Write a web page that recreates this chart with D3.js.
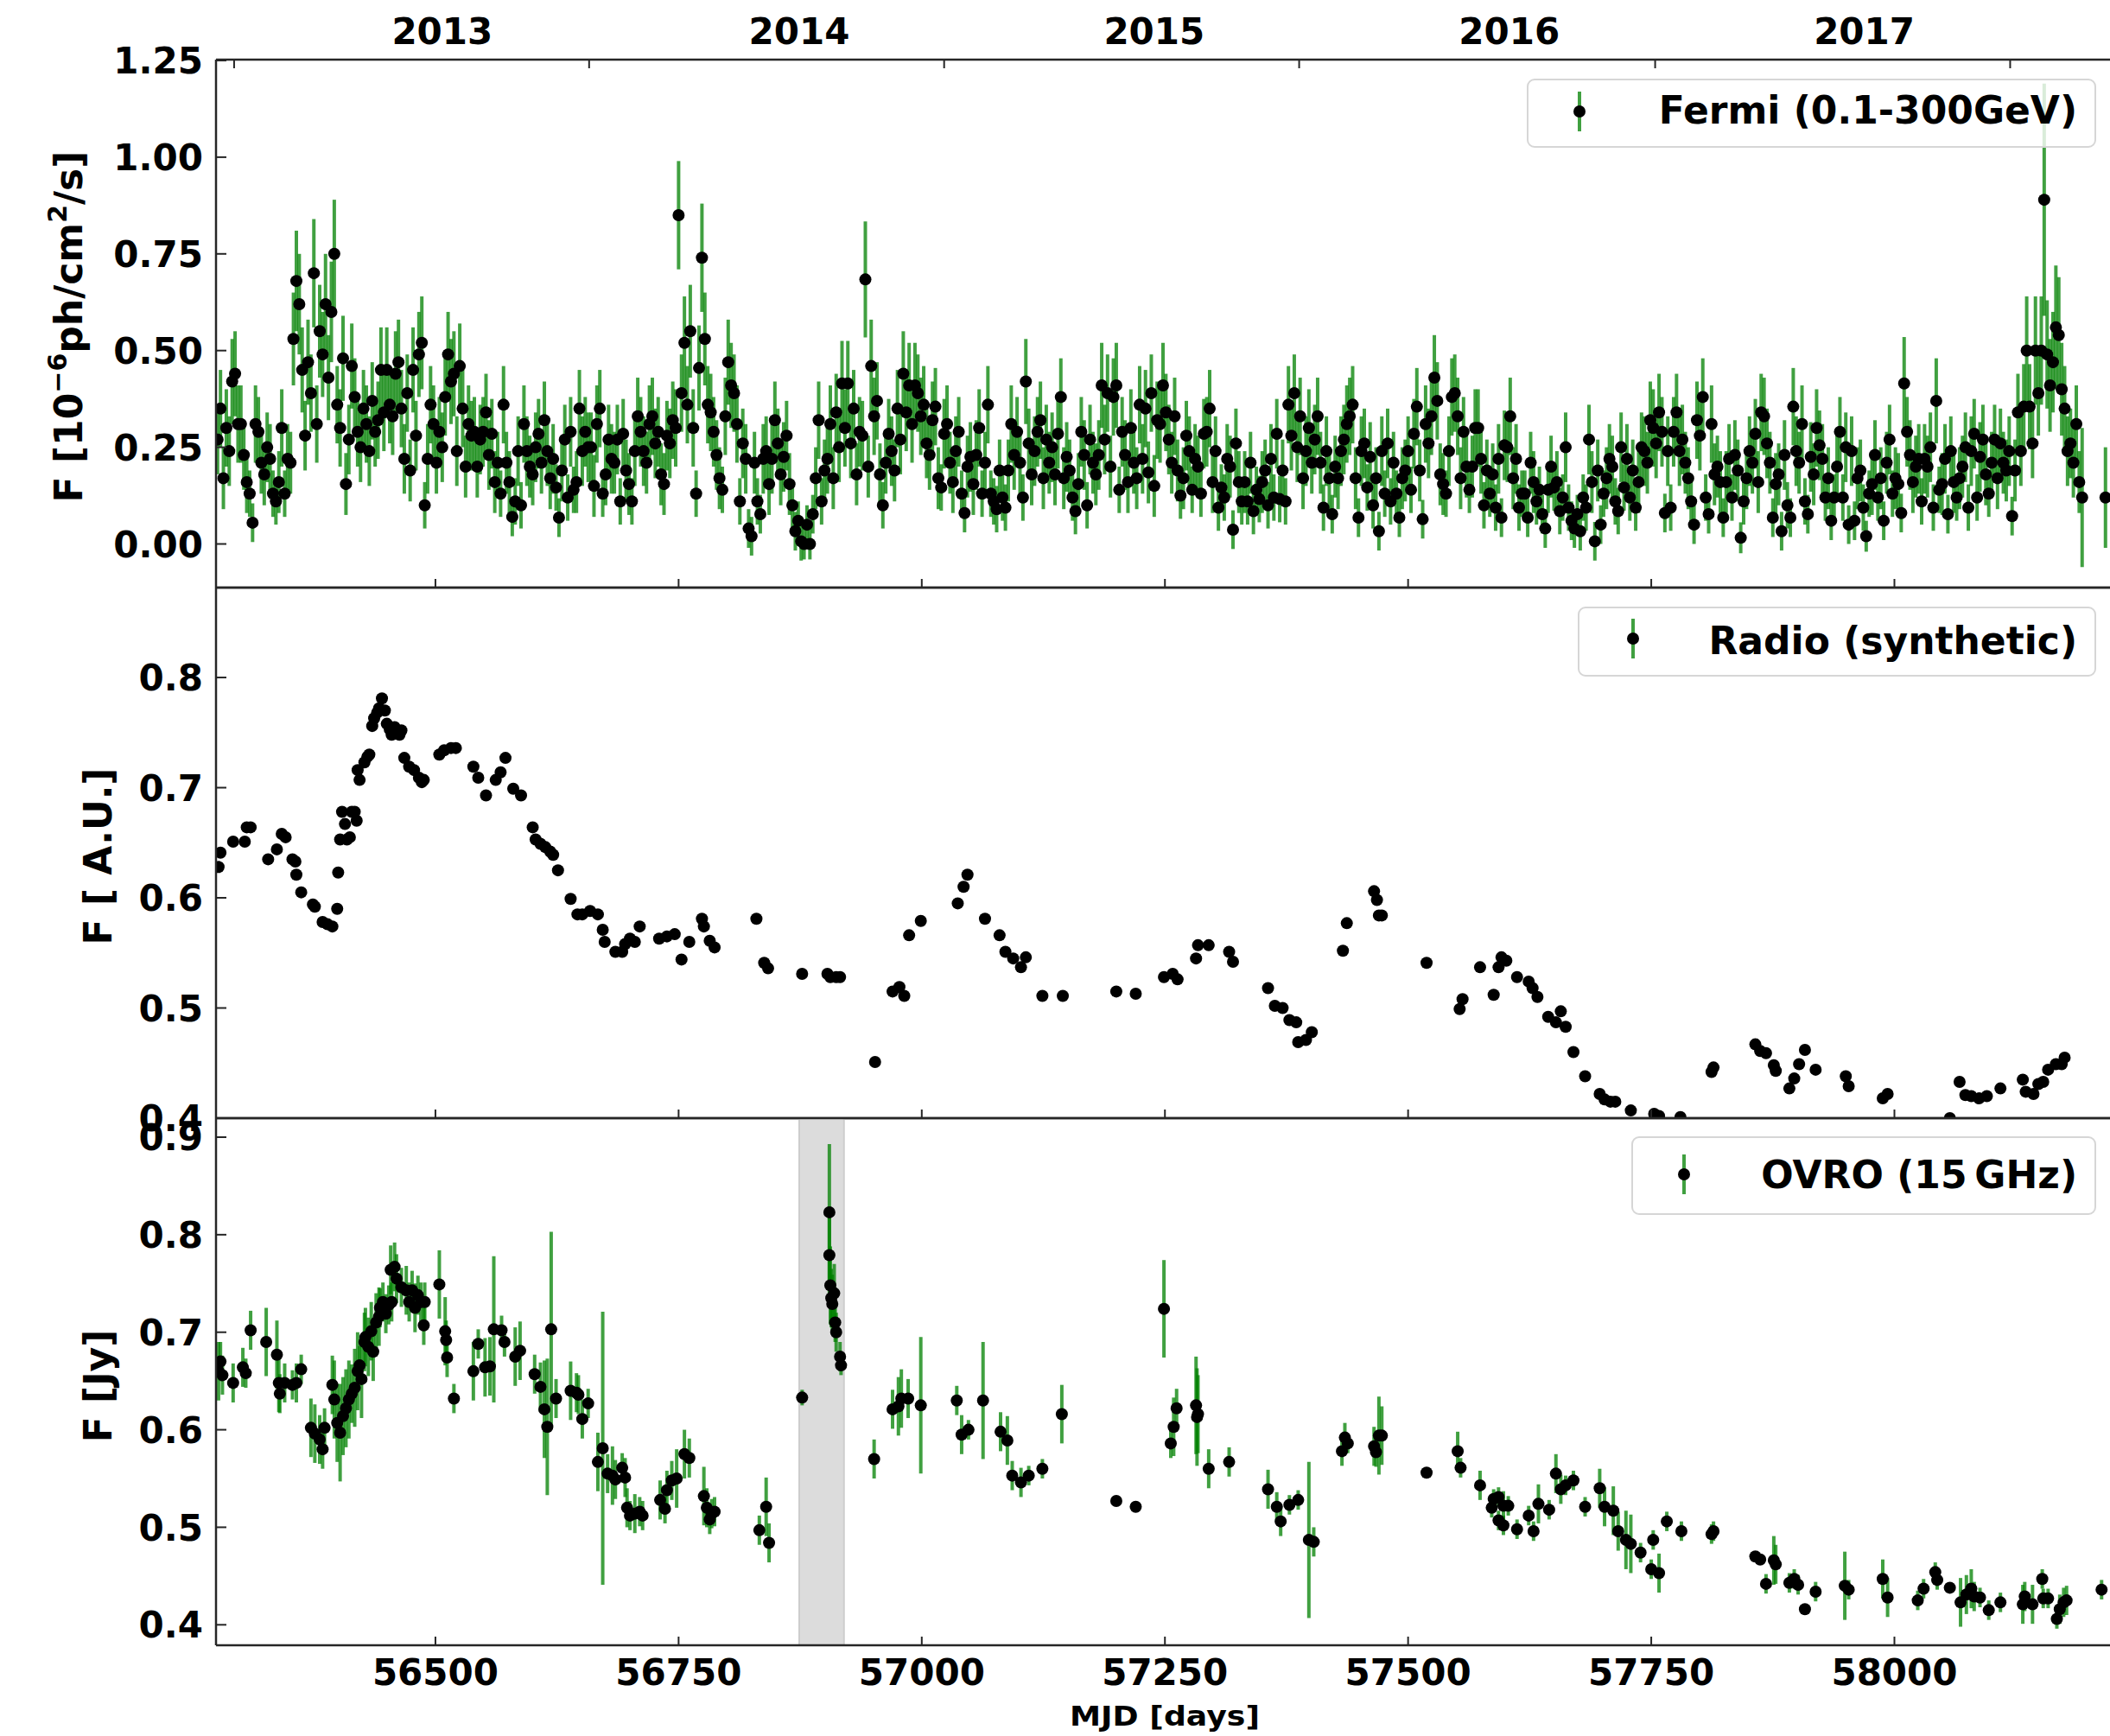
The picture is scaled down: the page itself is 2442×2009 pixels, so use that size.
<!DOCTYPE html>
<html>
<head>
<meta charset="utf-8">
<script src="https://cdn.jsdelivr.net/npm/d3@7"></script>
<style>
  body { margin: 0; background: #fff; }
  text { font-family: "DejaVu Sans", sans-serif; font-weight: bold; fill: #000; }
</style>
</head>
<body>
<div id="chart"></div>
<script>
///////////////////////////////////////////// Data
// Fermi light curve, fixed 3-day bins starting at MJD 56276 (null = empty bin)
var fermiT0 = 56276, fermiBin = 3;
var fermiFlux = [
  .27,.35,.17,.30,.24,.42,.44,.31,  .31,.23,.16,.13,.055,.31,.29,.21,  .18,.25,.22,.13,.11,.16,.30,.13,
  .22,.21,.53,.68,.62,.45,.28,.47,  .39,.70,.31,.55,.49,.62,.43,.60,  .75,.36,.30,.48,.155,.27,.46,.38,
  .29,.25,.35,.31,.24,.37,.29,.32,  .45,.34,.45,.36,.33,.44,.47,.35,  .22,.39,.19,.45,.28,.49,.52,.10,
  .22,.36,.31,.21,.29,.25,.38,.49,  .42,.44,.24,.46,.35,.20,.31,.28,  .29,.20,.27,.29,.34,.23,.285,.16,
  .21,.13,.36,.21,.16,.07,.11,.24,  .10,.31,.24,.20,.18,.25,.285,.21,  .32,.24,.17,.22,.146,.068,.19,.27,
  .12,.29,.14,.16,.35,.24,.29,.25,  .25,.15,.31,.35,.13,.18,.27,.22,  .21,.27,.11,.285,.19,.155,.11,.24,
  .33,.29,.24,.21,.31,.33,.26,.29,  .18,.155,.28,.26,.32,.30,.85,.39,  .52,.36,.55,.30,.13,.455,.74,.53,
  .36,.34,.29,.23,.17,.14,.33,.47,  .41,.39,.31,.11,.26,.22,.04,.02,  .21,.11,.077,.22,.24,.155,.22,.32,
  .26,.18,.225,.28,.155,.10,.033,.06,  .007,0,.05,0,.077,.17,.32,.11,  .19,.22,.31,.17,.34,.25,.415,.30,
  .415,.26,.35,.18,.29,.28,.684,.20,  .46,.33,.37,.18,.10,.21,.285,.24,  .19,.35,.27,.44,.34,.41,.31,.41,
  .39,.33,.36,.26,.23,.32,.355,.17,  .146,.285,.31,.21,.16,.24,.29,.13,  .08,.20,.225,.155,.23,.30,.13,.21,
  .36,.13,.11,.09,.19,.12,.094,.19,  .31,.23,.29,.21,.12,.42,.26,.18,  .24,.29,.32,.17,.27,.21,.25,.18,
  .285,.38,.17,.225,.19,.12,.085,.155,  .29,.23,.10,.27,.21,.18,.23,.41,  .27,.39,.20,.38,.41,.14,.29,.23,
  .16,.30,.21,.17,.36,.22,.35,.185,  .39,.15,.32,.31,.41,.34,.27,.21,  .33,.19,.125,.17,.28,.24,.14,.22,
  .20,.13,.285,.29,.35,.16,.24,.094,  .146,.12,.22,.20,.037,.26,.16,.11,  .16,.11,.21,.085,.14,.116,.16,.19,
  .10,.22,.12,.285,.116,.19,.11,.36,  .28,.39,.25,.33,.17,.24,.30,.21,  .27,.33,.21,.094,.24,.17,.077,.20,
  .17,.24,.27,.31,.33,.36,.17,.068,  .24,.26,.146,.225,.10,.17,.033,.24,  .13,.26,.11,.21,.13,.068,.17,.19,
  .24,.14,.285,.355,.19,.064,.31,.26,  .33,.43,.37,.18,.155,.13,.24,.38,  .39,.33,.17,.29,.20,.14,.20,.30,
  .30,.22,.10,.19,.13,.18,.094,.22,  .068,.255,.25,.33,.17,.22,.094,.13,  .13,.068,.21,.16,.11,.14,.077,.04,
  .14,.20,.146,.16,.085,.12,.25,.094,  .06,.04,.077,.033,.12,.094,.27,.16,  .007,.19,.05,.13,.17,.22,.20,.11,
  .085,.25,.146,.22,.12,.19,.094,.16,  .25,.24,.21,.32,.30,.26,.34,.29,  .08,.24,.094,.29,.34,.24,.27,.21,
  .17,.11,.05,.32,.28,.38,.12,.077,  .31,.18,.20,.16,.068,.16,.22,.12,  .23,.19,.016,.11,.17,.24,.21,.285,
  .16,.34,.33,.26,.21,.068,.155,.18,  .033,.23,.10,.068,.355,.24,.21,.31,  .11,.077,.225,.18,.30,.255,.22,.12,
  .17,.06,.12,.20,.29,.12,.25,.05,  .24,.06,.17,.19,.094,.02,.13,.155,  .23,.12,.17,.06,.21,.27,.13,.17,
  .155,.08,.415,.29,.23,.16,.20,.22,  .11,.22,.20,.25,.094,.37,.14,.155,  .22,.077,.24,.16,.12,.17,.20,.25,
  .094,.24,.285,.12,.225,.27,.18,.13,  .21,.27,.17,.26,.21,.19,.24,.072,  .19,.34,.24,.355,.50,.355,.26,.50,
  .39,.50,.89,.49,.41,.47,.56,.54,  .40,.35,.24,.26,.21,.31,.16,.12,  null,null,null,null,null,null,null,.12
]
// Fermi 1-sigma errors, in units of 0.01
var fermiErr = [
  9,10,8,10,9,11,11,10, 10,9,8,6,5,10,9,8, 8,9,9,6,6,8,10,6,
  9,8,12,13,13,11,9,11, 10,14,10,12,11,13,11,13, 14,10,10,11,8,9,11,10,
  9,9,10,10,9,10,9,10, 11,10,11,10,10,11,11,10, 9,10,8,11,9,11,12,6,
  9,10,10,8,9,9,10,11, 11,11,9,11,10,8,10,9, 9,8,9,9,10,9,9,8,
  8,6,10,8,8,5,6,9, 6,10,9,8,8,9,9,8, 10,9,8,9,6,5,8,9,
  6,9,6,8,10,9,9,9, 9,8,10,10,6,8,9,9, 8,9,6,9,8,8,6,9,
  10,9,9,8,10,10,9,9, 8,8,9,9,10,10,14,10, 12,10,12,10,6,11,14,12,
  10,10,9,9,8,6,10,11, 11,10,10,6,9,9,5,5, 8,6,5,9,9,8,9,10,
  9,8,9,9,8,6,5,5, 5,4,5,4,5,8,10,6, 8,9,10,8,10,9,11,10,
  11,9,10,8,9,9,15,8, 12,10,10,8,6,8,9,9, 8,10,9,11,10,11,10,11,
  10,10,10,9,9,10,10,8, 6,9,10,8,8,9,9,6, 5,8,9,8,9,10,6,8,
  10,6,6,6,8,6,6,8, 10,9,9,8,6,11,9,8, 9,9,10,8,9,8,9,8,
  9,10,8,9,8,6,6,8, 9,9,6,9,8,8,9,11, 9,10,8,10,11,6,9,9,
  8,10,8,8,10,9,10,8, 10,8,10,10,11,10,9,8, 10,8,6,8,9,9,6,9,
  8,6,9,9,10,8,9,6, 6,6,9,8,5,9,8,6, 8,6,8,6,6,6,8,8,
  6,9,6,9,6,8,6,10, 9,10,9,10,8,9,10,8, 9,10,8,6,9,8,5,8,
  8,9,9,10,10,10,8,5, 9,9,6,9,6,8,5,9, 6,9,6,8,6,5,8,8,
  9,6,9,10,8,5,10,9, 10,11,10,8,8,6,9,10, 10,10,8,9,8,6,8,10,
  10,9,6,8,6,8,6,9, 5,9,9,10,8,9,6,6, 6,5,8,8,6,6,5,5,
  6,8,6,8,6,6,9,6, 5,5,5,5,6,6,9,8, 5,8,5,6,8,9,8,6,
  6,9,6,9,6,8,6,8, 9,9,8,10,10,9,10,9, 5,9,6,9,10,9,9,8,
  8,6,5,10,9,10,6,5, 10,8,8,8,5,8,9,6, 9,8,4,6,8,9,8,9,
  8,10,10,9,8,5,8,8, 5,9,6,5,10,9,8,10, 6,5,9,8,10,9,9,6,
  8,5,6,8,9,6,9,5, 9,5,8,8,6,4,6,8, 9,6,8,5,8,9,6,8,
  8,5,12,9,9,8,8,9, 6,9,8,9,6,11,6,8, 9,5,9,8,6,8,8,9,
  6,9,9,6,9,9,8,6, 8,9,8,9,8,8,9,5, 8,10,9,11,14,11,9,14,
  11,14,30,14,12,13,16,15, 12,11,9,9,9,10,8,18, 0,0,0,0,0,0,0,13
]

// Radio (synthetic)
var radioMJD = [56277,56279,56292,56304,56306,56310,56328,56337,56342,56346,56353,56356,56357,56362,56374,56376,
  56384,56389,56394,56399,56400,56402,56404,56407,56409,56412,56414,56417,56419,56420,56422,56427,56430,56432,
  56435,56437,56440,56442,56445,56448,56450,56453,56455,56458,56460,56463,56465,56468,56473,56478,56483,56486,
  56488,56504,56509,56516,56521,56539,56544,56552,56562,56567,56572,56580,56588,56600,56603,56608,56613,56618,
  56621,56626,56639,56646,56651,56659,56667,56672,56674,56685,56692,56695,56700,56705,56710,56730,56738,56746,
  56753,56761,56774,56776,56782,56787,56830,56838,56842,56877,56903,56906,56912,56916,56952,56970,56977,56982,
  56987,56999,57037,57043,57047,57065,57080,57086,57094,57102,57107,57124,57145,57200,57220,57249,57258,57263,
  57282,57284,57295,57316,57320,57356,57363,57371,57378,57385,57387,57395,57401,57433,57437,57465,57468,57470,
  57473,57519,57553,57556,57574,57588,57593,57596,57601,57612,57624,57628,57633,57644,57652,57657,57662,57670,
  57682,57697,57702,57708,57713,57729,57753,57758,57780,57812,57814,57857,57862,57868,57876,57878,57892,57897,
  57902,57908,57919,57950,57953,57988,57993,58057,58067,58073,58079,58087,58095,58109,58132,58135,58143,58148,
  58153,58158,58166,58172,58175]
var radioFlux = [.628,.641,.651,.651,.664,.664,.635,.644,.658,.655,.635,.633,.621,.605,.594,.592,
  .578,.576,.574,.590,.623,.653,.678,.667,.653,.655,.678,.678,.670,.716,.707,.723,.728,.730,
  .756,.763,.768,.772,.781,.770,.758,.753,.748,.755,.750,.748,.752,.727,.719,.716,.709,.705,
  .707,.730,.734,.736,.736,.719,.709,.693,.707,.714,.727,.699,.693,.664,.653,.649,.646,.642,
  .639,.625,.599,.585,.585,.588,.585,.571,.560,.551,.551,.558,.563,.560,.574,.563,.565,.567,
  .544,.560,.581,.574,.561,.555,.581,.541,.536,.531,.531,.528,.528,.528,.451,.515,.519,.511,
  .566,.579,.595,.610,.621,.581,.566,.551,.545,.537,.546,.511,.511,.515,.513,.528,.531,.526,
  .545,.557,.557,.551,.542,.518,.502,.500,.489,.487,.469,.471,.478,.552,.577,.606,.598,.584,
  .584,.541,.499,.508,.537,.512,.537,.546,.543,.528,.524,.518,.510,.492,.487,.497,.483,.460,
  .438,.422,.417,.415,.415,.407,.404,.402,.401,.442,.446,.467,.461,.459,.448,.443,.427,.436,
  .449,.462,.444,.438,.429,.418,.422,.400,.433,.421,.420,.418,.420,.427,.435,.424,.422,.431,
  .433,.444,.449,.449,.455]

// OVRO 15 GHz
var ovroMJD = [56277,56279,56281,56292,56302,56305,56310,56326,56337,56339,56340,56345,56353,56357,56362,56372,
  56376,56381,56384,56386,56394,56396,56399,56402,56405,56408,56411,56414,56417,56420,56422,56424,56427,56428,
  56431,56434,56436,56439,56442,56443,56446,56449,56452,56454,56455,56458,56460,56465,56470,56473,56476,56479,
  56482,56485,56488,56489,56504,56510,56511,56512,56519,56539,56544,56551,56556,56560,56568,56571,56582,56587,
  56602,56608,56612,56615,56619,56624,56639,56645,56647,56651,56657,56667,56672,56677,56682,56685,56692,56695,
  56697,56700,56705,56710,56713,56731,56736,56738,56743,56748,56756,56761,56776,56779,56782,56784,56787,56833,
  56840,56843,56877,56905,56905,56906,56907,56908,56910,56911,56912,56916,56917,56951,56970,56976,56979,56986,
  56999,57036,57041,57048,57063,57081,57088,57093,57102,57110,57124,57144,57200,57220,57249,57256,57259,57262,
  57282,57283,57284,57295,57316,57356,57365,57369,57378,57387,57398,57403,57432,57435,57438,57465,57467,57470,
  57473,57519,57551,57554,57574,57586,57588,57593,57593,57598,57598,57603,57612,57624,57629,57634,57645,57652,
  57657,57662,57670,57682,57697,57702,57711,57716,57724,57729,57739,57750,57752,57758,57766,57781,57812,57814,
  57857,57862,57868,57876,57878,57892,57897,57901,57908,57919,57949,57953,57988,57993,58024,58030,58042,58044,
  58057,58068,58074,58079,58082,58088,58097,58109,58132,58134,58142,58152,58153,58158,58167,58170,58174,58177,58213]
var ovroFlux = [.660,.670,.656,.648,.664,.658,.702,.690,.677,.648,.637,.648,.646,.648,.662,.602,
  .596,.590,.580,.602,.646,.631,.607,.597,.614,.622,.631,.637,.643,.660,.666,.652,.690,.695,
  .685,.701,.680,.710,.716,.725,.731,.719,.728,.764,.731,.767,.755,.746,.743,.731,.743,.725,
  .738,.731,.707,.731,.749,.701,.692,.674,.632,.660,.688,.664,.665,.703,.702,.690,.675,.681,
  .657,.644,.621,.603,.703,.632,.640,.638,.636,.611,.627,.567,.581,.555,.553,.549,.561,.551,
  .520,.512,.514,.516,.512,.528,.519,.538,.548,.550,.575,.571,.532,.520,.508,.514,.516,.497,
  .521,.484,.633,.823,.779,.748,.735,.729,.740,.710,.700,.675,.666,.570,.621,.624,.632,.632,
  .625,.630,.595,.600,.630,.598,.589,.553,.546,.553,.560,.616,.527,.521,.724,.586,.603,.622,
  .625,.613,.616,.560,.567,.539,.521,.506,.523,.528,.487,.485,.578,.592,.586,.583,.577,.594,
  .594,.556,.578,.561,.543,.520,.529,.531,.507,.502,.522,.522,.498,.512,.496,.524,.518,.555,
  .539,.543,.548,.521,.540,.521,.517,.496,.487,.483,.474,.457,.487,.453,.506,.496,.493,.496,
  .470,.467,.442,.466,.462,.443,.447,.441,.416,.434,.440,.436,.447,.428,.425,.437,.454,.446,
  .438,.423,.431,.437,.429,.428,.415,.423,.421,.429,.421,.447,.427,.427,.406,.416,.423,.425,.436]
var ovroErr = [.030,.020,.020,.020,.020,.015,.020,.035,.035,.030,.020,.020,.015,.020,.015,.030,
  .030,.025,.020,.020,.030,.040,.040,.050,.040,.040,.040,.030,.040,.040,.020,.040,.030,.030,
  .030,.030,.030,.030,.030,.020,.020,.020,.020,.025,.020,.025,.025,.020,.025,.020,.020,.025,
  .020,.020,.020,.020,.035,.035,.020,.020,.015,.030,.015,.030,.030,.075,.015,.015,.030,.030,
  .020,.025,.050,.070,.100,.020,.030,.020,.020,.020,.015,.030,.140,.020,.030,.020,.015,.020,
  .020,.015,.020,.015,.015,.020,.015,.020,.020,.030,.025,.020,.030,.020,.015,.015,.015,.015,
  .030,.020,.008,.070,.050,.040,.030,.030,.030,.020,.020,.015,.010,.020,.020,.030,.030,.020,
  .070,.015,.020,.010,.060,.020,.025,.015,.015,.010,.010,.030,.005,.005,.050,.015,.030,.020,
  .050,.050,.040,.020,.015,.020,.015,.015,.010,.010,.080,.015,.015,.015,.010,.020,.015,.040,
  .030,.005,.020,.010,.015,.010,.010,.010,.010,.010,.015,.010,.010,.010,.010,.020,.010,.020,
  .015,.010,.010,.010,.020,.020,.025,.020,.030,.030,.010,.010,.010,.020,.010,.010,.010,.010,
  .005,.005,.010,.025,.020,.010,.010,.010,.005,.010,.035,.010,.020,.020,.010,.010,.010,.010,
  .005,.025,.020,.020,.015,.010,.010,.010,.020,.015,.020,.010,.010,.010,.010,.015,.015,.015,.010]

// gray band, axis ticks
var shadeMJD = [56874, 56920]
var mjdTicks = [56500, 56750, 57000, 57250, 57500, 57750, 58000]
var yearTickMJD = [56293, 56658, 57023, 57388, 57754, 58119]
var yearLabelMJD = [56507, 56874, 57239, 57604, 57969]
var yearLabels = ["2013", "2014", "2015", "2016", "2017"]
var fermiTicks = [0, 0.25, 0.5, 0.75, 1.0, 1.25]
var radioTicks = [0.4, 0.5, 0.6, 0.7, 0.8]
var ovroTicks = [0.4, 0.5, 0.6, 0.7, 0.8, 0.9]

///////////////////////////////////////////// Layout
var W = 2442, H = 2009
var left = 250, right = 2446
var green = "rgb(0,128,0)"

var svg = d3.select("#chart")
    .append("svg")
        .attr("width", W)
        .attr("height", H)

var x = d3.scaleLinear()
    .domain([56274.4, 58225.2])
    .range([left, right])

var fermi = fermiFlux.map(function(v, i) {
    return { t: fermiT0 + i * fermiBin, v: v, e: fermiErr[i] / 100 }
}).filter(function(d) { return d.v !== null })
var radio = radioMJD.map(function(t, i) { return { t: t, v: radioFlux[i], e: 0 } })
var ovro = ovroMJD.map(function(t, i) { return { t: t, v: ovroFlux[i], e: ovroErr[i] } })

var panels = [
    { id: "fermi", top: 69, bottom: 680, domain: [-0.1128, 1.2522], ticks: fermiTicks, fmt: d3.format(".2f"),
      data: fermi, bars: true,
      label: [["F [10", 0], ["\u22126", 1], ["ph/cm", 0], ["2", 1], ["/s]", 0]], labelX: 95, labelY: 378,
      legend: { x0: 1768, y0: 92, x1: 2425, y1: 170, mx: 1828, my: 129, base: 143, text: "Fermi (0.1-300GeV)" } },
    { id: "radio", top: 680, bottom: 1294, domain: [0.4, 0.8816], ticks: radioTicks, fmt: d3.format(".1f"),
      data: radio, bars: false,
      label: [["F [ A.U.]", 0]], labelX: 129, labelY: 991,
      legend: { x0: 1827, y0: 703, x1: 2425, y1: 782, mx: 1890, my: 739, base: 757, text: "Radio (synthetic)" } },
    { id: "ovro", top: 1294, bottom: 1904, domain: [0.379, 0.9195], ticks: ovroTicks, fmt: d3.format(".1f"),
      data: ovro, bars: true, shade: true,
      label: [["F [Jy]", 0]], labelX: 129, labelY: 1604,
      legend: { x0: 1889, y0: 1316, x1: 2425, y1: 1405, mx: 1949, my: 1359, base: 1375, text: "OVRO (15\u2009GHz)" } }
]

panels.forEach(function(p) {
    var y = d3.scaleLinear().domain(p.domain).range([p.bottom, p.top])
    var g = svg.append("g").attr("class", "panel-" + p.id)

    g.append("clipPath")
        .attr("id", "clip-" + p.id)
        .append("rect")
            .attr("x", left).attr("y", p.top)
            .attr("width", right - left).attr("height", p.bottom - p.top)

    var plot = g.append("g").attr("clip-path", "url(#clip-" + p.id + ")")

    // shaded interval
    if (p.shade) {
        plot.append("rect")
            .attr("x", x(shadeMJD[0]))
            .attr("y", p.top)
            .attr("width", x(shadeMJD[1]) - x(shadeMJD[0]))
            .attr("height", p.bottom - p.top)
            .style("fill", "#dcdcdc")
            .style("stroke", "#cdcdcd")
            .style("stroke-width", 2)
    }

    // error bars
    if (p.bars) {
        plot.selectAll(".bar")
            .data(p.data.filter(function(d) { return d.e > 0 }))
            .join("line")
                .attr("class", "bar")
                .attr("x1", function(d) { return x(d.t) })
                .attr("x2", function(d) { return x(d.t) })
                .attr("y1", function(d) { return y(d.v - d.e) })
                .attr("y2", function(d) { return y(d.v + d.e) })
                .style("stroke", green)
                .style("stroke-opacity", 0.75)
                .style("stroke-width", 4)
    }

    // points
    plot.selectAll(".dot")
        .data(p.data)
        .join("circle")
            .attr("class", "dot")
            .attr("cx", function(d) { return x(d.t) })
            .attr("cy", function(d) { return y(d.v) })
            .attr("r", 7)
            .style("fill", "#000")

    // spines
    var spine = function(x1, y1, x2, y2) {
        g.append("line")
            .attr("x1", x1).attr("y1", y1).attr("x2", x2).attr("y2", y2)
            .style("stroke", "#262626")
            .style("stroke-width", 2.5)
    }
    spine(left, p.top, W, p.top)
    spine(left, p.bottom, W, p.bottom)
    spine(left, p.top, left, p.bottom)

    // y ticks (inward) + labels
    p.ticks.forEach(function(t) {
        g.append("line")
            .attr("x1", left).attr("x2", left + 12)
            .attr("y1", y(t)).attr("y2", y(t))
            .style("stroke", "#262626").style("stroke-width", 2)
        g.append("text")
            .attr("x", 235)
            .attr("y", y(t))
            .attr("dy", "0.36em")
            .attr("text-anchor", "end")
            .style("font-size", "42px")
            .text(p.fmt(t))
    })

    // x ticks on the bottom spine (inward)
    mjdTicks.forEach(function(t) {
        g.append("line")
            .attr("x1", x(t)).attr("x2", x(t))
            .attr("y1", p.bottom).attr("y2", p.bottom - 10)
            .style("stroke", "#262626").style("stroke-width", 2)
    })

    // Y label
    var lab = g.append("text")
        .attr("transform", "translate(" + p.labelX + "," + p.labelY + ") rotate(-90)")
        .attr("text-anchor", "middle")
        .style("font-size", "44px")
    var shift = 0
    p.label.forEach(function(part) {
        var sup = part[1] === 1
        var dy = sup ? -18 - shift : -shift
        shift = sup ? -18 : 0
        lab.append("tspan")
            .attr("dy", dy)
            .style("font-size", sup ? "30px" : "44px")
            .text(part[0])
    })

    // Legend
    var L = p.legend
    var lg = g.append("g").attr("class", "legend")
    lg.append("rect")
        .attr("x", L.x0).attr("y", L.y0)
        .attr("width", L.x1 - L.x0).attr("height", L.y1 - L.y0)
        .attr("rx", 8)
        .style("fill", "#fff").style("fill-opacity", 0.8)
        .style("stroke", "#d6d6d6").style("stroke-width", 2)
    lg.append("line")
        .attr("x1", L.mx).attr("x2", L.mx)
        .attr("y1", L.my - 23).attr("y2", L.my + 23)
        .style("stroke", green).style("stroke-opacity", 0.75).style("stroke-width", 4)
    lg.append("circle")
        .attr("cx", L.mx).attr("cy", L.my).attr("r", 7)
        .style("fill", "#000")
    lg.append("text")
        .attr("x", 2404).attr("y", L.base)
        .attr("text-anchor", "end")
        .style("font-size", "44px")
        .text(L.text)
})

// top year axis
yearTickMJD.forEach(function(t) {
    svg.append("line")
        .attr("x1", x(t)).attr("x2", x(t))
        .attr("y1", 69).attr("y2", 79)
        .style("stroke", "#262626").style("stroke-width", 2)
})
svg.selectAll(".year")
    .data(yearLabels)
    .join("text")
        .attr("class", "year")
        .attr("x", function(d, i) { return x(yearLabelMJD[i]) })
        .attr("y", 51)
        .attr("text-anchor", "middle")
        .style("font-size", "42px")
        .text(function(d) { return d })

// bottom MJD labels
svg.selectAll(".mjd")
    .data(mjdTicks)
    .join("text")
        .attr("class", "mjd")
        .attr("x", function(d) { return x(d) })
        .attr("y", 1950)
        .attr("text-anchor", "middle")
        .style("font-size", "42px")
        .text(function(d) { return d })

// X Label
svg.append("text")
    .attr("x", (left + right) / 2)
    .attr("y", 1997)
    .attr("text-anchor", "middle")
    .attr("textLength", 220)
    .attr("lengthAdjust", "spacingAndGlyphs")
    .style("font-size", "32px")
    .text("MJD [days]")
</script>
</body>
</html>
